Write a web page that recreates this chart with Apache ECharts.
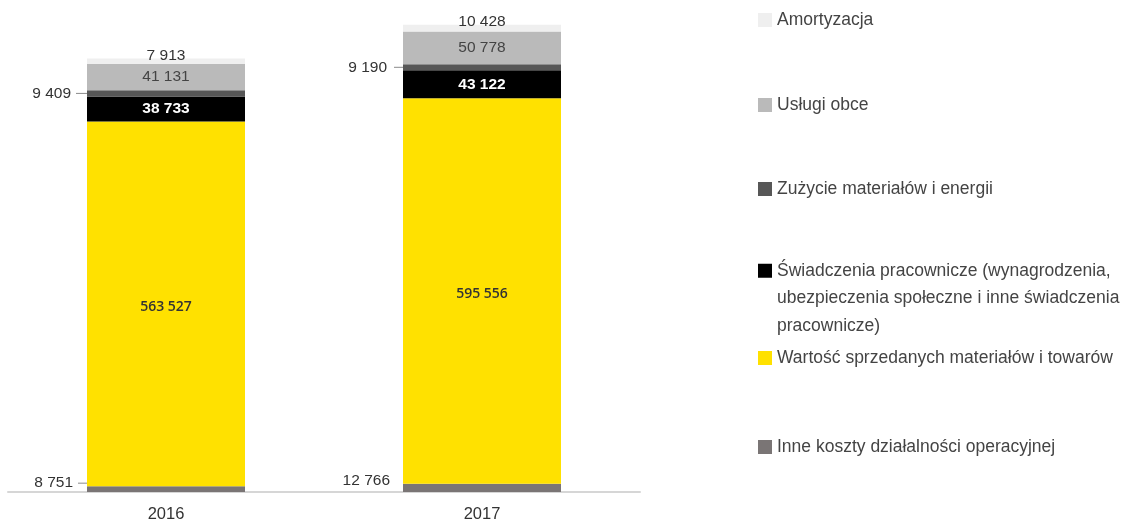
<!DOCTYPE html>
<html>
<head>
<meta charset="utf-8">
<script src="https://cdn.jsdelivr.net/npm/echarts@6/dist/echarts.min.js"></script>
<style>
html,body{margin:0;padding:0;background:#fff;}
#chart{width:1126px;height:521px;}
</style>
</head>
<body>
<div id="chart"></div>
<script>
const categories = ['2016', '2017'];
const inneKoszty = [8751, 12766];
const wartoscSprzedanych = [563527, 595556];
const swiadczenia = [38733, 43122];
const zuzycie = [9409, 9190];
const uslugiObce = [41131, 50778];
const amortyzacja = [7913, 10428];

const names = {
  inne: 'Inne koszty działalności operacyjnej',
  wartosc: 'Wartość sprzedanych materiałów i towarów',
  swiad: 'Świadczenia pracownicze (wynagrodzenia, ubezpieczenia społeczne i inne świadczenia pracownicze)',
  zuz: 'Zużycie materiałów i energii',
  usl: 'Usługi obce',
  amort: 'Amortyzacja'
};
const colors = {
  inne: '#7a7575',
  wartosc: '#ffe100',
  swiad: '#000000',
  zuz: '#575757',
  usl: '#bababa',
  amort: '#efefef'
};

function fmt(v) { return String(v).replace(/\B(?=(\d{3})+(?!\d))/g, ' '); }
const FONT = '"Liberation Sans", Arial, sans-serif';

const chart = echarts.init(document.getElementById('chart'));

function leaderLabel(gap, len, dist, dy) {
  return {
    show: true,
    position: 'left',
    distance: dist,
    offset: [0, dy],
    formatter: p => len > 0 ? '{t|' + fmt(p.value) + '}{g|}{l|}' : '{t|' + fmt(p.value) + '}',
    rich: {
      t: { fontSize: 15.5, color: '#333', fontFamily: FONT },
      g: { width: gap, height: 1 },
      l: { width: len, height: 1, backgroundColor: '#8a8a8a' }
    }
  };
}

const series = [
  {
    name: names.inne, type: 'bar', stack: 'a', barWidth: '50%',
    itemStyle: { color: colors.inne },
    data: inneKoszty.map((v, i) => ({
      value: v,
      label: i === 0 ? leaderLabel(5, 9, 0, -6) : leaderLabel(0, 0, 13, -7)
    }))
  },
  {
    name: names.wartosc, type: 'bar', stack: 'a',
    itemStyle: { color: colors.wartosc },
    label: { show: true, position: 'inside', offset: [0, 3], formatter: p => fmt(p.value), color: '#333',
      fontFamily: '"Open Sans", sans-serif', fontWeight: 600, fontSize: 14 },
    data: wartoscSprzedanych
  },
  {
    name: names.swiad, type: 'bar', stack: 'a',
    itemStyle: { color: colors.swiad },
    label: { show: true, position: 'inside', formatter: p => fmt(p.value), color: '#fff',
      fontFamily: FONT, fontWeight: 'bold', fontSize: 15.5 },
    data: swiadczenia
  },
  {
    name: names.zuz, type: 'bar', stack: 'a',
    itemStyle: { color: colors.zuz },
    data: zuzycie.map((v, i) => ({
      value: v,
      label: i === 0 ? leaderLabel(5, 11, 0, 0) : leaderLabel(7, 9, 0, 0)
    }))
  },
  {
    name: names.usl, type: 'bar', stack: 'a',
    itemStyle: { color: colors.usl },
    label: { show: true, position: 'inside', formatter: p => fmt(p.value), color: '#444',
      fontFamily: FONT, fontSize: 15.5 },
    data: uslugiObce
  },
  {
    name: names.amort, type: 'bar', stack: 'a',
    itemStyle: { color: colors.amort },
    label: { show: true, position: 'top', distance: -5, formatter: p => fmt(p.value), color: '#333',
      fontFamily: FONT, fontSize: 15.5 },
    data: amortyzacja
  }
];

const legendBase = {
  orient: 'vertical', left: 758, itemWidth: 14, itemHeight: 14, icon: 'rect',
  selectedMode: false, padding: 0, itemGap: 0
};
function mkLegend(key, top, extra) {
  return Object.assign({}, legendBase, {
    top: top,
    data: [names[key]],
    textStyle: Object.assign({ fontSize: 17.5, color: '#444', fontFamily: FONT }, extra || {})
  });
}
const legends = [
  mkLegend('amort', 11),
  mkLegend('usl', 96),
  mkLegend('zuz', 180),
  Object.assign(mkLegend('swiad', 202, { lineHeight: 27.5 }), {
    formatter: () => '\n\nŚwiadczenia pracownicze (wynagrodzenia,\nubezpieczenia społeczne i inne świadczenia\npracownicze)'
  }),
  mkLegend('wartosc', 349),
  mkLegend('inne', 438)
];

chart.setOption({
  animation: false,
  backgroundColor: '#fff',
  grid: { left: 8, right: 486, top: 0, bottom: 29, containLabel: false, outerBoundsMode: 'none' },
  legend: legends,
  xAxis: {
    type: 'category', data: categories,
    axisLine: { lineStyle: { color: '#d6d6d6', width: 2 } },
    axisTick: { show: false },
    axisLabel: { color: '#333', fontSize: 16.5, fontFamily: FONT, margin: 14 }
  },
  yAxis: { type: 'value', min: 0, max: 760000, show: false, splitLine: { show: false } },
  series: series
});
</script>
</body>
</html>
